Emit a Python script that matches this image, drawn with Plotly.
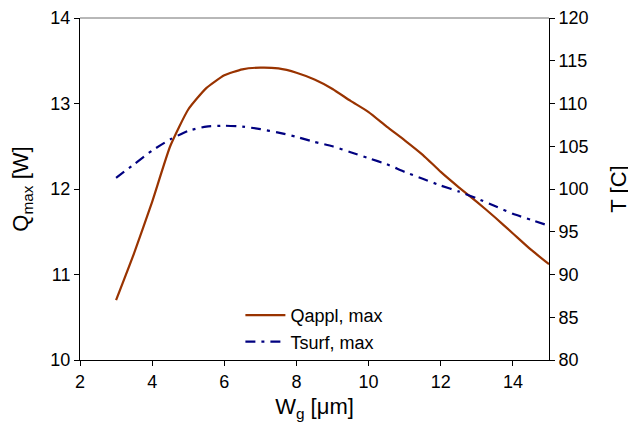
import plotly.graph_objects as go

wg = [3.0, 3.5, 4.0, 4.5, 5.0, 5.5, 6.0, 6.5, 7.0, 7.5, 8.0, 8.5, 9.0,
      9.5, 10.0, 10.5, 11.0, 11.5, 12.0, 12.5, 13.0, 13.5, 14.0, 14.5, 15.0]
q_appl = [10.70, 11.25, 11.85, 12.50, 12.93, 13.18, 13.33, 13.40, 13.42, 13.41,
          13.36, 13.28, 13.17, 13.03, 12.90, 12.73, 12.57, 12.40, 12.20, 12.02,
          11.85, 11.67, 11.48, 11.29, 11.12]
t_surf = [101.3, 102.9, 104.5, 105.8, 106.8, 107.3, 107.4, 107.3, 107.0, 106.6,
          106.1, 105.5, 105.0, 104.3, 103.6, 102.9, 102.0, 101.2, 100.4, 99.7,
          98.9, 98.0, 97.1, 96.4, 95.7]

font = dict(family="Liberation Sans, Arial, sans-serif", size=18, color="black")

fig = go.Figure()
fig.add_trace(go.Scatter(x=wg, y=q_appl, mode="lines", name="Qappl, max",
                         line=dict(color="#993300", width=2.2, shape="spline", smoothing=0.5),
                         yaxis="y"))
fig.add_trace(go.Scatter(x=wg, y=t_surf, mode="lines", name="Tsurf, max",
                         line=dict(color="#000080", width=2.2, dash="10px,6px,3px,6px",
                                   shape="spline", smoothing=0.5),
                         yaxis="y2"))

fig.add_shape(type="line", xref="paper", yref="paper", x0=0, x1=1, y0=1, y1=1,
              line=dict(color="#707070", width=1), layer="below")

fig.update_layout(
    width=628, height=418,
    margin=dict(l=72, r=87, t=10, b=66),
    paper_bgcolor="white", plot_bgcolor="white",
    font=font,
    showlegend=True,
    legend=dict(x=0.342, y=0.0, xanchor="left", yanchor="bottom",
                bgcolor="rgba(0,0,0,0)", font=dict(size=18),
                tracegroupgap=0, itemwidth=40),
    xaxis=dict(range=[2, 15], dtick=2, tick0=2, showline=True, linecolor="black",
               linewidth=1, ticks="outside", ticklen=5, tickcolor="black",
               showgrid=False, zeroline=False, automargin=False,
               title=dict(text="W<sub>g</sub> [μm]", standoff=8)),
    yaxis=dict(range=[10, 14], dtick=1, showline=True, linecolor="black",
               linewidth=1, ticks="outside", ticklen=5, tickcolor="black",
               showgrid=False, zeroline=False, automargin=False,
               title=dict(text="Q<sub>max</sub> [W]", standoff=16)),
    yaxis2=dict(range=[80, 120], dtick=5, overlaying="y", side="right",
                showline=True, linecolor="black", linewidth=1, ticks="outside",
                ticklen=5, tickcolor="black", showgrid=False, zeroline=False,
                automargin=False,
                title=dict(text="T [C]", standoff=22)),
)

fig.write_html("out.html")
